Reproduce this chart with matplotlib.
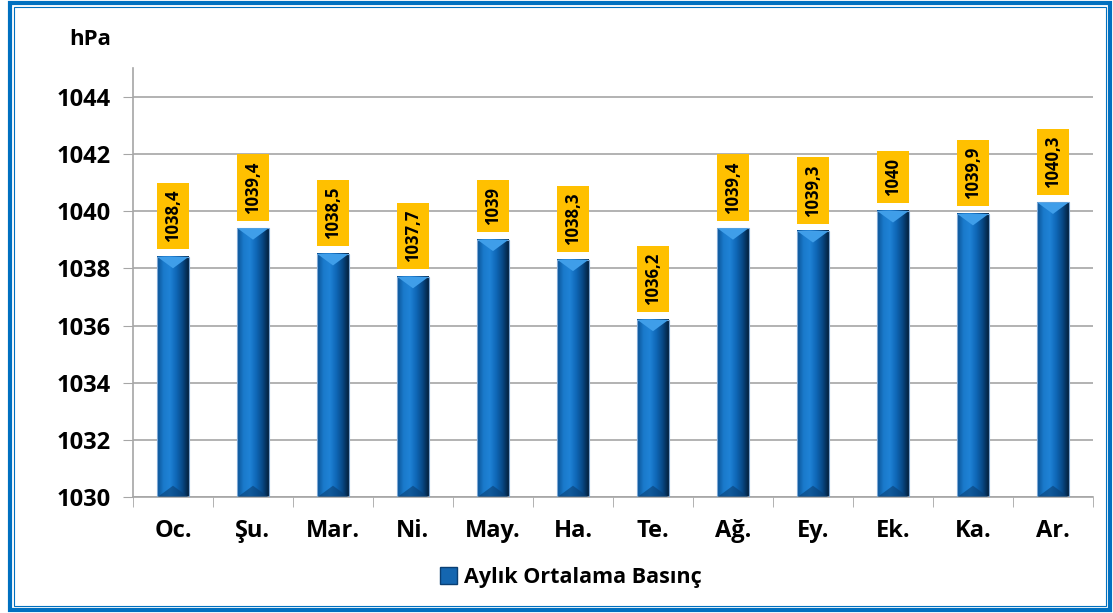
import numpy as np
import matplotlib
matplotlib.use("Agg")
import matplotlib.pyplot as plt
from matplotlib.colors import LinearSegmentedColormap
from matplotlib.patches import Polygon, Rectangle

plt.rcParams['font.family'] = ['Open Sans', 'DejaVu Sans']

# ---------------------------------------------------
# data
months = ["Oc.", "Şu.", "Mar.", "Ni.", "May.", "Ha.", "Te.", "Ağ.", "Ey.", "Ek.", "Ka.", "Ar."]
pressure = [1038.4, 1039.4, 1038.5, 1037.7, 1039.0, 1038.3, 1036.2, 1039.4, 1039.3, 1040.0, 1039.9, 1040.3]
value_labels = ["1038,4", "1039,4", "1038,5", "1037,7", "1039", "1038,3", "1036,2",
                "1039,4", "1039,3", "1040", "1039,9", "1040,3"]
y_ticks = [1030, 1032, 1034, 1036, 1038, 1040, 1042, 1044]
legend_label = "Aylık Ortalama Basınç"
unit = "hPa"

# ---------------------------------------------------

fig = plt.figure(figsize=(11.13, 6.13), dpi=100)
ax = fig.add_axes([0.1195, 0.189, 0.8625, 0.70])

y_min, y_max = 1030, 1045
bar_w = 0.39
x = np.arange(len(months))

# cylinder shading across the bar width
bar_cmap = LinearSegmentedColormap.from_list(
    "cyl", ["#0a5294", "#1a7acb", "#1f82d6", "#0f68b8", "#084a88", "#02213f"])
grad = np.linspace(0, 1, 64).reshape(1, -1)

for xi, val, lab in zip(x, pressure, value_labels):
    ax.imshow(grad, cmap=bar_cmap, aspect="auto", zorder=2,
              extent=(xi - bar_w / 2, xi + bar_w / 2, y_min, val))
    ax.add_patch(Rectangle((xi - bar_w / 2, y_min), bar_w, val - y_min,
                           fill=False, edgecolor="#7fa9d6", linewidth=0.8, zorder=3))
    # light top chevron
    ax.add_patch(Polygon([(xi - bar_w / 2, val), (xi + bar_w / 2, val), (xi, val - 0.4)],
                         closed=True, facecolor="#3f9ee9", edgecolor="none", zorder=3))
    # dark bottom chevron
    ax.add_patch(Polygon([(xi - bar_w / 2, y_min), (xi + bar_w / 2, y_min), (xi, y_min + 0.4)],
                         closed=True, facecolor="#0a3f73", edgecolor="none", alpha=0.6, zorder=3))
    ax.annotate(lab, xy=(xi, val), xytext=(0, 10.5), textcoords="offset points",
                rotation=90, ha="center", va="bottom", fontsize=12, fontweight="bold",
                bbox=dict(boxstyle="square,pad=0.42", facecolor="#ffc000", edgecolor="none"),
                zorder=4)

ax.set_xlim(-0.5, len(months) - 0.5)
ax.set_ylim(y_min, y_max)

ax.set_yticks(y_ticks)
ax.set_yticklabels([str(t) for t in y_ticks], fontsize=17, fontweight="bold")
ax.grid(axis="y", color="#a6a6a6", linewidth=1.2, zorder=0)
ax.set_axisbelow(True)

ax.set_xticks(x)
ax.set_xticklabels(months, fontsize=17, fontweight="bold")
ax.set_xticks(np.arange(-0.5, len(months), 1), minor=True)
ax.tick_params(axis="x", which="major", length=0, pad=16)
ax.tick_params(axis="x", which="minor", length=7, color="#a6a6a6", direction="out")
ax.tick_params(axis="y", length=7, color="#a6a6a6", pad=9)

for side in ["top", "right"]:
    ax.spines[side].set_visible(False)
for side in ["left", "bottom"]:
    ax.spines[side].set_color("#a6a6a6")
    ax.spines[side].set_linewidth(1.2)

fig.text(0.081, 0.935, unit, ha="center", va="center", fontsize=16, fontweight="bold")

handle = Rectangle((0, 0), 1, 1, facecolor="#1466b0", edgecolor="#0a3f73")
fig.legend([handle], [legend_label], loc="center", bbox_to_anchor=(0.513, 0.058),
           frameon=False, prop={"weight": "bold", "size": 15.5},
           handlelength=0.8, handleheight=0.8, handletextpad=0.3)

# blue frame round the figure
fig.patches.append(Rectangle((0.009, 0.005), 0.988, 0.99, transform=fig.transFigure,
                             fill=False, edgecolor="#0070c0", linewidth=3))
fig.patches.append(Rectangle((0.0125, 0.011), 0.981, 0.978, transform=fig.transFigure,
                             fill=False, edgecolor="#0070c0", linewidth=0.8))

fig.savefig("out.png", dpi=100)
